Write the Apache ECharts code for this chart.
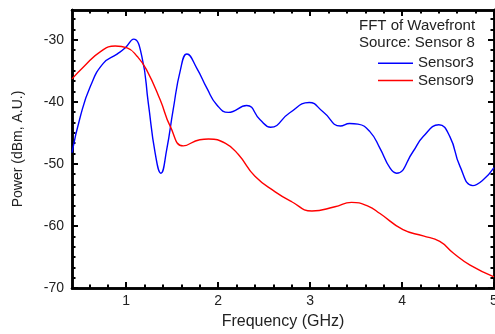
<!DOCTYPE html>
<html>
<head>
<meta charset="utf-8">
<script src="https://cdn.jsdelivr.net/npm/echarts@6/dist/echarts.min.js"></script>
<style>
  html, body { margin: 0; padding: 0; background: #fff; }
  #chart { width: 495px; height: 334px; }
</style>
</head>
<body>
<div id="chart"></div>
<script>
// Sensor3 (blue) - frequency in GHz, power in dBm
const sensor3Freq = [0.41, 0.50, 0.61, 0.75, 0.90, 0.99, 1.08, 1.17, 1.24, 1.315, 1.377, 1.44, 1.51, 1.59, 1.66, 1.768, 1.877, 1.986, 2.11, 2.31, 2.456, 2.57, 2.775, 2.99, 3.14, 3.33, 3.43, 3.52, 3.65, 3.76, 3.87, 3.94, 4.12, 4.23, 4.40, 4.52, 4.63, 4.77, 4.88, 5.00];
const sensor3Power = [-48.2, -42.4, -37.5, -33.8, -32.3, -31.3, -29.9, -32.7, -40.2, -48.3, -51.5, -47.7, -41.3, -34.8, -32.3, -34.6, -37.8, -40.5, -41.7, -40.6, -42.9, -44.1, -41.8, -40.1, -41.6, -43.9, -43.5, -43.6, -44.8, -47.5, -50.7, -51.5, -48.0, -45.6, -43.7, -45.6, -50.4, -53.5, -52.6, -50.6];

// Sensor9 (red)
const sensor9Freq = [0.41, 0.54, 0.72, 0.88, 1.01, 1.12, 1.22, 1.37, 1.48, 1.62, 1.80, 1.895, 2.08, 2.22, 2.40, 2.62, 2.80, 3.02, 3.27, 3.45, 3.63, 3.76, 4.01, 4.23, 4.41, 4.56, 4.74, 5.00];
const sensor9Power = [-36.3, -34.3, -31.9, -31.0, -31.3, -32.7, -34.8, -39.7, -44.0, -47.1, -46.1, -46.0, -46.7, -48.5, -52.0, -54.5, -56.1, -57.6, -56.9, -56.2, -56.8, -58.0, -60.6, -61.6, -62.5, -64.4, -66.3, -68.2];

// tick labels / tick positions
const xMajorTicks = [1, 2, 3, 4, 5];
const xMinorTicks = [0.6, 0.8, 1.2, 1.4, 1.6, 1.8, 2.2, 2.4, 2.6, 2.8, 3.2, 3.4, 3.6, 3.8, 4.2, 4.4, 4.6, 4.8];
const yMajorTicks = [-70, -60, -50, -40, -30];
const yMinorTicks = [-68.333, -66.667, -65, -63.333, -61.667, -58.333, -56.667, -55, -53.333, -51.667,
  -48.333, -46.667, -45, -43.333, -41.667, -38.333, -36.667, -35, -33.333, -31.667,
  -28.333, -26.667];

const FONT = "'Liberation Sans', Arial, sans-serif";
const X_MIN = 0.41, X_MAX = 5, Y_MIN = -70, Y_MAX = -25.2;

function pairs(xs, ys) {
  return xs.map((x, i) => [x, ys[i]]);
}

function xAxisDef(position, ticks, len, withLabels) {
  return {
    type: 'value', position: position, min: X_MIN, max: X_MAX,
    axisLine: { show: true, lineStyle: { color: '#000', width: 2.5 } },
    axisTick: { show: true, inside: true, length: len, customValues: ticks, lineStyle: { color: '#000', width: 2 } },
    axisLabel: withLabels
      ? { show: true, customValues: ticks, margin: 6, color: '#222', fontSize: 14, fontFamily: FONT }
      : { show: false },
    splitLine: { show: false }
  };
}

function yAxisDef(position, ticks, len, withLabels) {
  return {
    type: 'value', position: position, min: Y_MIN, max: Y_MAX,
    axisLine: { show: true, lineStyle: { color: '#000', width: 2.5 } },
    axisTick: { show: true, inside: true, length: len, customValues: ticks, lineStyle: { color: '#000', width: 2 } },
    axisLabel: withLabels
      ? { show: true, customValues: ticks, margin: 8, color: '#222', fontSize: 14, fontFamily: FONT }
      : { show: false },
    splitLine: { show: false }
  };
}

const xMain = xAxisDef('bottom', xMajorTicks, 6, true);
xMain.name = 'Frequency (GHz)';
xMain.nameLocation = 'middle';
xMain.nameGap = 26;
xMain.nameTextStyle = { color: '#222', fontSize: 16, fontFamily: FONT };

const yMain = yAxisDef('left', yMajorTicks, 6, true);
yMain.name = 'Power (dBm, A.U.)';
yMain.nameLocation = 'middle';
yMain.nameGap = 47;
yMain.nameTextStyle = { color: '#222', fontSize: 14, fontFamily: FONT };

const option = {
  animation: false,
  backgroundColor: '#fff',
  title: {
    text: 'FFT of Wavefront\nSource: Sensor 8',
    left: 359,
    top: 17,
    padding: 0,
    textStyle: { color: '#222', fontSize: 15, fontWeight: 'normal', lineHeight: 17.3, fontFamily: FONT }
  },
  legend: {
    data: ['Sensor3', 'Sensor9'],
    orient: 'vertical',
    left: 378,
    top: 54.5,
    padding: 0,
    align: 'left',
    icon: 'rect',
    itemWidth: 35,
    itemHeight: 1.5,
    itemGap: 0,
    textStyle: { color: '#222', fontSize: 15, lineHeight: 17.3, fontFamily: FONT }
  },
  grid: { left: 72, right: 1, top: 10, bottom: 46, containLabel: false, outerBoundsMode: 'none' },
  xAxis: [
    xMain,
    xAxisDef('bottom', xMinorTicks, 3.5, false),
    xAxisDef('top', xMajorTicks, 6, false),
    xAxisDef('top', xMinorTicks, 3.5, false)
  ],
  yAxis: [
    yMain,
    yAxisDef('left', yMinorTicks, 3.5, false),
    yAxisDef('right', yMajorTicks, 6, false),
    yAxisDef('right', yMinorTicks, 3.5, false)
  ],
  series: [
    {
      name: 'Sensor3',
      type: 'line',
      xAxisIndex: 0,
      yAxisIndex: 0,
      smooth: true,
      symbol: 'none',
      lineStyle: { color: '#0000ff', width: 1.4 },
      itemStyle: { color: '#0000ff' },
      data: pairs(sensor3Freq, sensor3Power)
    },
    {
      name: 'Sensor9',
      type: 'line',
      xAxisIndex: 0,
      yAxisIndex: 0,
      smooth: true,
      symbol: 'none',
      lineStyle: { color: '#ff0000', width: 1.4 },
      itemStyle: { color: '#ff0000' },
      data: pairs(sensor9Freq, sensor9Power)
    }
  ]
};

const chart = echarts.init(document.getElementById('chart'), null, { renderer: 'canvas' });
chart.setOption(option);
window.addEventListener('resize', () => chart.resize());
</script>
</body>
</html>
